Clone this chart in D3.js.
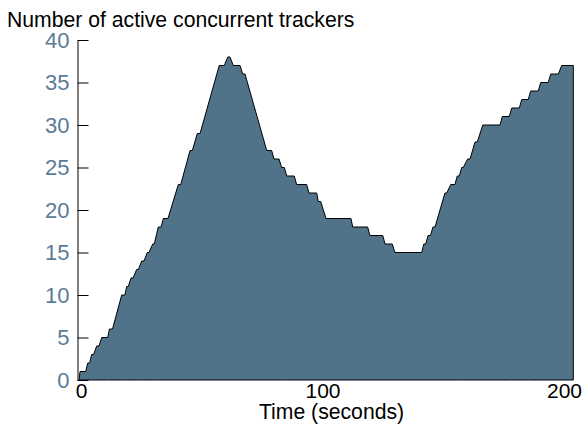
<!DOCTYPE html>
<html lang="en">
<head>
  <meta charset="UTF-8">
  <title>Active concurrent trackers</title>
  <script src="https://d3js.org/d3.v7.min.js"></script>
  <style>
    body { margin: 0; background: #fff; }
    text { font-family: "Liberation Sans", Arial, sans-serif; }
  </style>
</head>
<body>
<svg width="583" height="429"></svg>
<script>
  // corner points of the step trace
  var times = [-0.8, -0.4, 1.95, 2.8, 3.6, 4.4, 5.2, 6.5, 7.45, 8.6, 11.05, 11.8, 13.05,
    16.85, 18.2, 18.9, 19.6, 20.7, 21.55, 23.05, 23.75, 25.15, 26.1, 27.45, 28.15,
    29.7, 30.35, 32.0, 33.15, 34.1, 36.0, 40.3, 41.3, 45.15, 46.1, 48.15, 49.3,
    57.25, 59.35, 60.75, 61.7, 63.05, 65.85, 66.95, 67.9, 76.9, 78.95, 79.9, 82.0,
    83.1, 84.2, 85.2, 88.3, 89.3, 93.45, 94.4, 97.6, 98.25, 99.25, 101.45, 111.8,
    112.5, 118.7, 119.65, 124.95, 125.9, 128.9, 130.0, 141.1, 141.95, 142.75, 143.7,
    144.7, 145.75, 146.6, 150.7, 151.45, 153.1, 154.85, 155.8, 156.65, 157.65, 158.3,
    160.1, 161.1, 163.15, 164.1, 166.35, 173.5, 174.45, 177.35, 178.35, 181.5, 182.5,
    185.2, 186.2, 189.35, 190.35, 193.5, 194.5, 197.65, 199.05, 203.85, 203.85];
  var counts = [0, 1, 1, 2, 2, 3, 3, 4, 4, 5, 5, 6, 6,
    10, 10, 11, 11, 12, 12, 13, 13, 14, 14, 15, 15,
    16, 16, 18, 18, 19, 19, 23, 23, 27, 27, 29, 29,
    37, 37, 38, 38, 37, 37, 36, 36, 27, 27, 26, 26,
    25, 25, 24, 24, 23, 23, 22, 22, 21, 21, 19, 19,
    18, 18, 17, 17, 16, 16, 15, 15, 16, 16, 17,
    17, 18, 18, 22, 22, 23, 23, 24, 24, 25, 25,
    26, 26, 28, 28, 30, 30, 31, 31, 32, 32, 33,
    33, 34, 34, 35, 35, 36, 36, 37, 37, 0];
  var xTicks = [0, 100, 200];
  var yTicks = [0, 5, 10, 15, 20, 25, 30, 35, 40];

  var svg = d3.select('svg');

  var x = d3.scaleLinear()
    .domain([0, 200])
    .range([81, 564]);

  var y = d3.scaleLinear()
    .domain([0, 40])
    .range([380, 40]);

  var points = times.map(function (t, i) {
    return {time: t, count: counts[i]};
  });

  var area = d3.area()
    .x(function (d) {
      return x(d.time);
    })
    .y0(y(0))
    .y1(function (d) {
      return y(d.count);
    });

  svg.append('path')
    .datum(points)
    .attr('fill', '#517389')
    .attr('stroke', '#000')
    .attr('stroke-width', 1)
    .attr('stroke-linejoin', 'miter')
    .attr('d', area);

  // y axis, ticks point into the plot
  var yAxis = svg.append('g')
    .attr('transform', 'translate(77.5,0)')
    .call(d3.axisLeft(y)
      .tickValues(yTicks)
      .tickSizeInner(-11)
      .tickSizeOuter(0)
      .tickPadding(8));
  yAxis.selectAll('line').attr('stroke', '#000');
  yAxis.select('.domain').attr('stroke', '#000');
  yAxis.selectAll('text')
    .attr('fill', '#5b7b97')
    .style('font-size', '22px');

  var xAxis = svg.append('g')
    .attr('transform', 'translate(0,380)')
    .call(d3.axisBottom(x)
      .tickValues(xTicks)
      .tickSize(0)
      .tickPadding(3.5));
  xAxis.select('.domain').remove();
  xAxis.selectAll('text')
    .attr('fill', '#000')
    .style('font-size', '21px');

  svg.append('text')
    .attr('x', 7)
    .attr('y', 26.5)
    .attr('fill', '#000')
    .style('font-size', '21.2px')
    .text('Number of active concurrent trackers');

  svg.append('text')
    .attr('x', 331.5)
    .attr('y', 418.5)
    .attr('text-anchor', 'middle')
    .attr('fill', '#000')
    .style('font-size', '21.2px')
    .text('Time (seconds)');
</script>
</body>
</html>
